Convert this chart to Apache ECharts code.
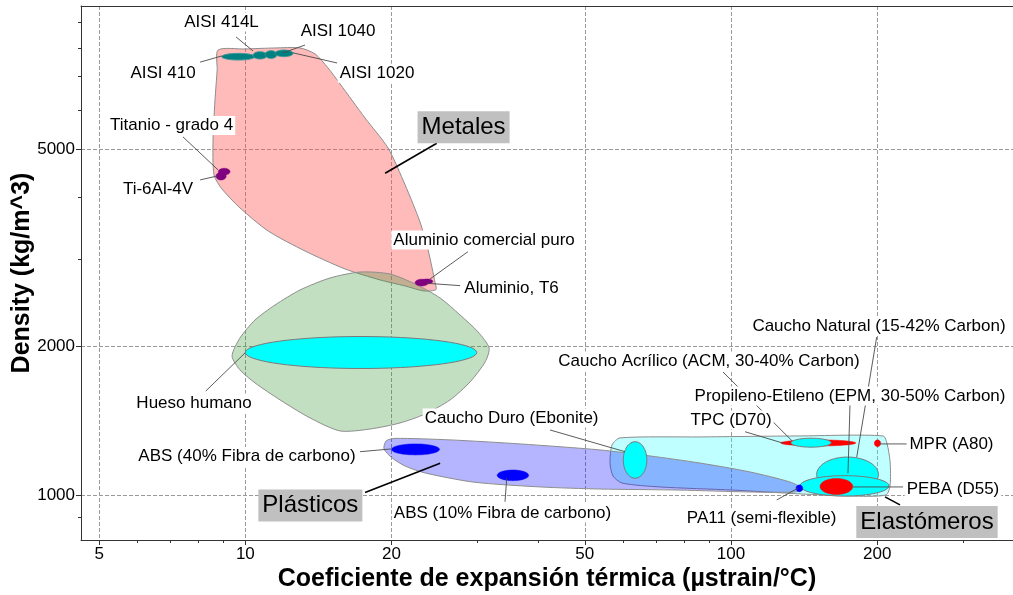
<!DOCTYPE html>
<html>
<head>
<meta charset="utf-8">
<script src="https://cdn.jsdelivr.net/npm/echarts@6/dist/echarts.min.js"></script>
<style>
  html, body { margin: 0; padding: 0; background: #fff; }
  #chart { width: 1013px; height: 595px; }
</style>
</head>
<body>
<div id="chart"></div>
<script>
// ---- Axis ranges (µstrain/°C and kg/m^3) and tick values ----
const xRange = [4.588, 380.7];
const yRange = [811, 9725];
const xMajorTicks = [5, 10, 20, 50, 100, 200];
const xMinorTicks = [6, 7, 8, 9, 30, 40, 60, 70, 80, 90, 300];
const yMajorTicks = [1000, 2000, 5000];
const yMinorTicks = [900, 3000, 4000, 6000, 7000, 8000, 9000];

// ---- Family envelopes: boundary points (expansion coefficient, density) ----
const metalesX = [8.79, 9.99, 11.51, 12.96, 13.92, 14.80, 15.67, 17.64, 19.67, 21.33, 22.89, 23.78, 24.24, 24.59,
                  24.70, 23.33, 21.33, 18.94, 16.04, 13.27, 11.14, 9.75, 8.95, 8.62, 8.58, 8.66, 8.75];
const metalesY = [7925, 7962, 8000, 8000, 7780, 7290, 6766, 5775, 5023, 4230, 3560, 3126, 2875, 2681,
                  2600, 2583, 2644, 2719, 2862, 3111, 3415, 3801, 4152, 4431, 5215, 6281, 7223];

const huesoEnvX = [9.39, 9.75, 10.47, 11.51, 12.96, 14.94, 17.23, 19.86, 22.57, 25.18, 27.68, 30.14,
                   31.76, 31.17, 29.02, 26.40, 23.44, 20.82, 18.06, 15.67, 13.59, 11.79, 10.47, 9.75];
const huesoEnvY = [1909, 2076, 2257, 2420, 2595, 2744, 2821, 2795, 2657, 2500, 2310, 2135,
                   1982, 1857, 1692, 1556, 1457, 1398, 1359, 1347, 1431, 1556, 1684, 1789];

const elastomerosX = [56.89, 59.09, 86.34, 138.7, 205.6, 209.6, 212.6, 212.6,
                      208.4, 175.8, 138.7, 100.9, 71.41, 59.65, 57.16, 56.35];
const elastomerosY = [1262, 1304, 1310, 1316, 1316, 1268, 1166, 1048,
                      1000, 995, 1005, 1023, 1038, 1057, 1092, 1160];

const plasticosX = [19.49, 20.33, 26.40, 36.79, 53.75, 68.11, 86.34, 109.4, 132.3, 140.7,
                    135.4, 109.4, 78.52, 53.75, 40.45, 29.43, 23.44, 21.33, 20.05, 19.30];
const plasticosY = [1286, 1301, 1292, 1268, 1233, 1199, 1160, 1113, 1062, 1028,
                    1014, 1014, 1023, 1028, 1038, 1062, 1108, 1144, 1188, 1239];

// ---- Materials: ranges of expansion coefficient and density ----
const materialNames = [
  'Hueso humano', 'AISI 410', 'AISI 414L', 'AISI 1020', 'AISI 1040',
  'Titanio - grado 4', 'Ti-6Al-4V', 'Aluminio comercial puro', 'Aluminio, T6',
  'ABS (40% Fibra de carbono)', 'ABS (10% Fibra de carbono)', 'Caucho Duro (Ebonite)',
  'TPC (D70)', 'Caucho Acrílico (ACM, 30-40% Carbon)', 'MPR (A80)',
  'Caucho Natural (15-42% Carbon)', 'Propileno-Etileno (EPM, 30-50% Carbon)',
  'PEBA (D55)', 'PA11 (semi-flexible)'
];
const alphaLo = [10.0, 8.94, 10.37, 10.98, 11.51, 8.80, 8.70, 23.07, 22.36, 20.0, 33.0, 60.0,
                 126.6, 132.9, 197.3, 150.1, 138.7, 152.5, 136.1];
const alphaHi = [29.95, 10.47, 11.08, 11.62, 12.54, 9.30, 9.13, 24.32, 23.81, 25.1, 38.3, 67.1,
                 180.7, 160.7, 203.3, 201.1, 211.5, 178.1, 140.5];
const rhoLo   = [1801, 7564, 7599, 7620, 7683, 4431, 4328, 2669, 2644, 1205, 1069, 1081,
                 1256, 1249, 1252, 1014, 995, 1002, 1015];
const rhoHi   = [2090, 7803, 7864, 7900, 7925, 4571, 4487, 2732, 2728, 1268, 1123, 1281,
                 1292, 1302, 1292, 1193, 1094, 1080, 1048];

// ---- Styling ----
const FONT = '"Liberation Sans", Arial, Helvetica, sans-serif';
const materialFill = {
  'Hueso humano': '#00ffff', 'AISI 410': '#008080', 'AISI 414L': '#008080',
  'AISI 1020': '#008080', 'AISI 1040': '#008080',
  'Titanio - grado 4': '#800080', 'Ti-6Al-4V': '#800080',
  'Aluminio comercial puro': '#800080', 'Aluminio, T6': '#800080',
  'ABS (40% Fibra de carbono)': '#0000ff', 'ABS (10% Fibra de carbono)': '#0000ff',
  'Caucho Duro (Ebonite)': '#00ffff', 'TPC (D70)': '#ff0000',
  'Caucho Acrílico (ACM, 30-40% Carbon)': '#00ffff', 'MPR (A80)': '#ff0000',
  'Caucho Natural (15-42% Carbon)': '#00ffff',
  'Propileno-Etileno (EPM, 30-50% Carbon)': '#00ffff',
  'PEBA (D55)': '#ff0000', 'PA11 (semi-flexible)': '#0000ff'
};
const materialStroke = {
  '#00ffff': '#7a7a7a', '#008080': '#3d9a9a', '#800080': null, '#0000ff': null, '#ff0000': null
};

// translucent fills so the grid and overlapping families show through
const envelopes = [
  { x: metalesX, y: metalesY, fill: 'rgba(255,83,83,0.4)' },
  { x: huesoEnvX, y: huesoEnvY, fill: 'rgba(52,148,52,0.3)' },
  { x: elastomerosX, y: elastomerosY, fill: 'rgba(42,255,255,0.3)' },
  { x: plasticosX, y: plasticosY, fill: 'rgba(5,5,255,0.3)' }
];

// Label placements and leader lines (data coordinates)
const annotations = [
  { text: 'AISI 414L', at: [8.93, 9030], from: [9.57, 8420], to: [10.37, 7890] },
  { text: 'AISI 1040', at: [15.52, 8660], from: [13.27, 8110], to: [11.96, 7820] },
  { text: 'AISI 410', at: [6.77, 7110], from: [8.07, 7490], to: [8.95, 7710] },
  { text: 'AISI 1020', at: [18.67, 7110], from: [15.45, 7460], to: [12.54, 7820] },
  { text: 'Titanio - grado 4', at: [7.05, 5580], from: [7.44, 5290], to: [8.79, 4535] },
  { text: 'Ti-6Al-4V', at: [6.61, 4150], from: [8.07, 4330], to: [8.75, 4410] },
  { text: 'Aluminio comercial puro', at: [31.01, 3275], from: [28.73, 3101], to: [24.01, 2732] },
  { text: 'Aluminio, T6', at: [35.33, 2619], from: [27.68, 2648], to: [23.70, 2677] },
  { text: 'Hueso humano', at: [7.84, 1534], from: [8.29, 1622], to: [10.0, 1939] },
  { text: 'ABS (40% Fibra de carbono)', at: [10.08, 1196], from: [17.23, 1223], to: [20.0, 1239] },
  { text: 'ABS (10% Fibra de carbono)', at: [33.85, 920], from: [34.25, 969], to: [34.53, 1081] },
  { text: 'Caucho Duro (Ebonite)', at: [35.33, 1431], from: [42.40, 1353], to: [60.5, 1223] },
  { text: 'Caucho Acrílico (ACM, 30-40% Carbon)', at: [90.1, 1865], from: [96.27, 1772], to: [133.6, 1286] },
  { text: 'Propileno-Etileno (EPM, 30-50% Carbon)', at: [175.8, 1585], from: [175.8, 1527], to: [174.1, 1106] },
  { text: 'Caucho Natural (15-42% Carbon)', at: [201.7, 2190], from: [199.5, 2085], to: [181.5, 1193] },
  { text: 'TPC (D70)', at: [100, 1418], from: [106.9, 1342], to: [128.2, 1272] },
  { text: 'MPR (A80)', at: [284.4, 1268], from: [229.9, 1268], to: [202.7, 1268] },
  { text: 'PEBA (D55)', at: [286.4, 1028], from: [226.0, 1038], to: [178.3, 1038] },
  { text: 'PA11 (semi-flexible)', at: [115.6, 899], from: [124.2, 977], to: [137.4, 1033] },
  { text: 'Metales', at: [28.14, 5530], from: [24.78, 5135], to: [19.40, 4467], family: true },
  { text: 'Plásticos', at: [13.61, 952], from: [17.64, 1011], to: [25.18, 1159], family: true },
  { text: 'Elastómeros', at: [253.2, 882], from: [222.8, 955], to: [207.5, 991], family: true }
];

const L = Math.log10;
const lg = (p) => [L(p[0]), L(p[1])];

const chart = echarts.init(document.getElementById('chart'), null, { renderer: 'canvas' });

const axisLineStyle = { color: '#333', width: 1 };
const gridLineStyle = { color: '#9a9a9a', width: 1, type: [4, 2] };

const option = {
  animation: false,
  backgroundColor: '#fff',
  grid: { left: 81, right: 0, top: 6, bottom: 55, containLabel: false, outerBoundsMode: 'none' },
  xAxis: [
    {
      type: 'value', position: 'bottom', min: L(xRange[0]), max: L(xRange[1]),
      axisLine: { show: true, onZero: false, lineStyle: axisLineStyle },
      axisTick: { show: true, customValues: xMajorTicks.map(L), length: 5, lineStyle: axisLineStyle },
      axisLabel: {
        show: true, customValues: xMajorTicks.map(L), margin: 6,
        formatter: (v) => String(Math.round(Math.pow(10, v))),
        color: '#000', fontSize: 17, fontFamily: FONT
      },
      splitLine: { show: true, lineStyle: gridLineStyle },
      name: 'Coeficiente de expansión térmica (µstrain/°C)',
      nameLocation: 'middle', nameGap: 27, nameMoveOverlap: false,
      nameTextStyle: { fontSize: 25, fontWeight: 'bold', color: '#000', fontFamily: FONT }
    },
    {
      type: 'value', position: 'top', min: L(xRange[0]), max: L(xRange[1]),
      axisLine: { show: true, onZero: false, lineStyle: axisLineStyle },
      axisTick: { show: false }, axisLabel: { show: false }, splitLine: { show: false }
    },
    {
      type: 'value', position: 'bottom', min: L(xRange[0]), max: L(xRange[1]),
      axisLine: { show: false, onZero: false },
      axisTick: { show: true, customValues: xMinorTicks.map(L), length: 3, lineStyle: axisLineStyle },
      axisLabel: { show: false }, splitLine: { show: false }
    }
  ],
  yAxis: [
    {
      type: 'value', position: 'left', min: L(yRange[0]), max: L(yRange[1]),
      axisLine: { show: true, onZero: false, lineStyle: axisLineStyle },
      axisTick: { show: true, customValues: yMajorTicks.map(L), length: 5, lineStyle: axisLineStyle },
      axisLabel: {
        show: true, customValues: yMajorTicks.map(L), margin: 6,
        formatter: (v) => String(Math.round(Math.pow(10, v))),
        color: '#000', fontSize: 17, fontFamily: FONT
      },
      splitLine: { show: true, lineStyle: gridLineStyle },
      name: 'Density (kg/m^3)',
      nameLocation: 'middle', nameGap: 46, nameMoveOverlap: false,
      nameTextStyle: { fontSize: 25, fontWeight: 'bold', color: '#000', fontFamily: FONT }
    },
    {
      type: 'value', position: 'left', min: L(yRange[0]), max: L(yRange[1]),
      axisLine: { show: false, onZero: false },
      axisTick: { show: true, customValues: yMinorTicks.map(L), length: 3, lineStyle: axisLineStyle },
      axisLabel: { show: false }, splitLine: { show: false }
    }
  ],
  series: [
    // family envelopes
    {
      type: 'custom', coordinateSystem: 'cartesian2d', silent: true, z: 2,
      data: envelopes.map((e, i) => [L(e.x[0]), L(e.y[0]), i]),
      renderItem: (params, api) => {
        const e = envelopes[params.dataIndex];
        const pts = e.x.map((v, k) => api.coord([L(v), L(e.y[k])]));
        return {
          type: 'polygon',
          shape: { points: pts, smooth: 0.25 },
          style: { fill: e.fill, stroke: '#8e8e8e', lineWidth: 1 }
        };
      }
    },
    // material property ellipses
    {
      type: 'custom', coordinateSystem: 'cartesian2d', silent: true, z: 3,
      data: materialNames.map((n, i) => [L(Math.sqrt(alphaLo[i] * alphaHi[i])), L(Math.sqrt(rhoLo[i] * rhoHi[i])), i]),
      renderItem: (params, api) => {
        const i = params.dataIndex;
        const a = api.coord([L(alphaLo[i]), L(rhoHi[i])]);
        const b = api.coord([L(alphaHi[i]), L(rhoLo[i])]);
        const cx = (a[0] + b[0]) / 2, cy = (a[1] + b[1]) / 2;
        const rx = Math.abs(b[0] - a[0]) / 2, ry = Math.abs(b[1] - a[1]) / 2;
        const pts = [];
        for (let k = 0; k < 72; k++) {
          const t = (k / 72) * Math.PI * 2;
          pts.push([cx + rx * Math.cos(t), cy + ry * Math.sin(t)]);
        }
        const fill = materialFill[materialNames[i]];
        const stroke = materialStroke[fill];
        return {
          type: 'polygon',
          shape: { points: pts },
          style: { fill: fill, stroke: stroke || fill, lineWidth: stroke ? 1 : 0.5 }
        };
      }
    },
    // leader lines
    {
      type: 'custom', coordinateSystem: 'cartesian2d', silent: true, z: 4,
      data: annotations.map((a, i) => [L(a.from[0]), L(a.from[1]), i]),
      renderItem: (params, api) => {
        const a = annotations[params.dataIndex];
        const p = api.coord(lg(a.from));
        const q = api.coord(lg(a.to));
        return {
          type: 'line',
          shape: { x1: p[0], y1: p[1], x2: q[0], y2: q[1] },
          style: { stroke: a.family ? '#000' : '#4a4a4a', lineWidth: a.family ? 1.6 : 0.9 }
        };
      }
    },
    // text labels
    {
      type: 'custom', coordinateSystem: 'cartesian2d', silent: true, z: 5,
      data: annotations.map((a, i) => [L(a.at[0]), L(a.at[1]), i]),
      renderItem: (params, api) => {
        const a = annotations[params.dataIndex];
        const p = api.coord(lg(a.at));
        return {
          type: 'text', x: p[0], y: p[1],
          style: a.family ? {
            text: a.text, font: '24px ' + FONT, fill: '#000',
            align: 'center', verticalAlign: 'middle',
            backgroundColor: '#c0c0c0', padding: [4, 4, 4, 4]
          } : {
            text: a.text, font: '17px ' + FONT, fill: '#000',
            align: 'center', verticalAlign: 'middle',
            backgroundColor: '#ffffff', padding: [1, 2, 1, 2]
          }
        };
      }
    }
  ]
};

chart.setOption(option);
</script>
</body>
</html>
